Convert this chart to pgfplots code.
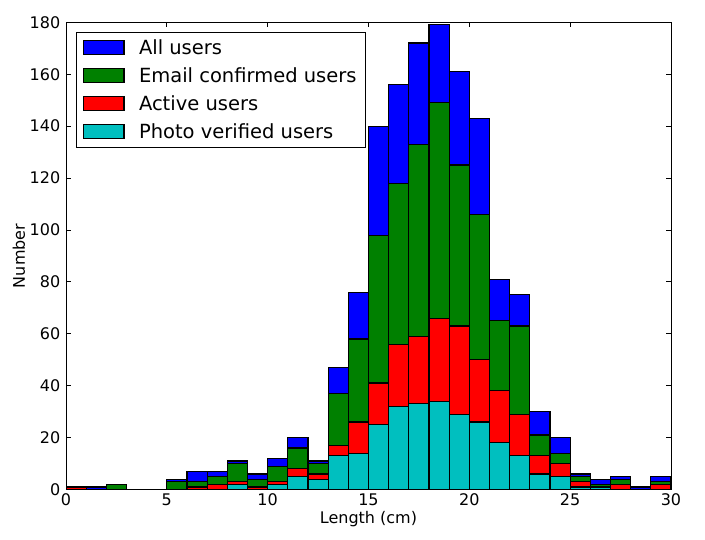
\documentclass[border=0pt]{standalone}
\usepackage{pgfplots}
\usepackage{pgfplotstable}
\pgfplotsset{compat=1.18}
\usepackage{fontspec}
\setmainfont{DejaVu Sans}
\definecolor{mplblue}{RGB}{0,0,255}
\definecolor{mplgreen}{RGB}{0,128,0}
\definecolor{mplred}{RGB}{255,0,0}
\definecolor{mplcyan}{RGB}{0,191,191}
\pgfplotsset{patchlegend/.style={legend image code/.code={\draw[##1] (0bp,-7bp) rectangle (40.6bp,7bp);}}}
\pgfplotstableread{
x  all email active photo
0  1   1   1   0
1  1   0   0   0
2  2   2   0   0
3  0   0   0   0
4  0   0   0   0
5  4   3   0   0
6  7   3   1   0
7  7   5   2   0
8  11  10  3   2
9  6   4   1   0
10 12  9   3   2
11 20  16  8   5
12 11  10  6   4
13 47  37  17  13
14 76  58  26  14
15 140 98  41  25
16 156 118 56  32
17 172 133 59  33
18 179 149 66  34
19 161 125 63  29
20 143 106 50  26
21 81  65  38  18
22 75  63  29  13
23 30  21  13  6
24 20  14  10  5
25 6   5   3   1
26 4   2   1   1
27 5   4   2   0
28 1   0   0   0
29 5   3   2   0
30 5   3   2   0
}\histdata
\begin{document}
\begin{tikzpicture}
\path[use as bounding box] (0,0) rectangle (705bp,540bp);
\begin{axis}[
  at={(66bp,50.5bp)}, anchor=south west,
  width=605bp, height=467.2bp, scale only axis,
  xmin=0, xmax=30, ymin=0, ymax=180,
  xtick={0,5,...,30}, ytick={0,20,...,180},
  minor tick num=0,
  tick align=inside,
  major tick length=5bp,
  tick style={black, line width=0.8bp},
  axis line style={black, line width=1bp},
  axis on top,
  /pgf/number format/assume math mode=true,
  ticklabel style={font=\fontsize{16bp}{19bp}\selectfont, inner sep=0pt, text height=11.66bp, text depth=0pt},
  xticklabel style={yshift=-4.5bp},
  yticklabel style={xshift=-5.6bp},
  label style={font=\fontsize{16bp}{19bp}\selectfont, inner sep=0pt},
  xlabel={Length (cm)},
  ylabel={Number},
  xlabel style={at={(axis description cs:0.5,0)}, anchor=base, yshift=-33.8bp},
  ylabel style={at={(axis description cs:-0.0678,0.5)}, anchor=base},
  legend cell align=left,
  legend style={
    at={(axis description cs:0.01605,0.97988)}, anchor=north west,
    draw=black, line width=1bp, fill=white,
    font=\fontsize{19.5bp}{23bp}\selectfont,
    inner xsep=6.5bp, inner ysep=6.3bp,
    row sep=10.1bp, column sep=12.5bp,
    nodes={inner sep=2bp, text height=14bp, text depth=0pt},
  },
]
\addlegendimage{fill=mplblue, draw=black, line width=1.2bp, patchlegend}
\addlegendentry{All users}
\addlegendimage{fill=mplgreen, draw=black, line width=1.2bp, patchlegend}
\addlegendentry{Email confirmed users}
\addlegendimage{fill=mplred, draw=black, line width=1.2bp, patchlegend}
\addlegendentry{Active users}
\addlegendimage{fill=mplcyan, draw=black, line width=1.2bp, patchlegend}
\addlegendentry{Photo verified users}
\addplot[ybar interval, fill=mplblue, draw=black, line width=1.2bp, forget plot] table[x=x, y=all] {\histdata};
\addplot[ybar interval, fill=mplgreen, draw=black, line width=1.2bp, forget plot] table[x=x, y=email] {\histdata};
\addplot[ybar interval, fill=mplred, draw=black, line width=1.2bp, forget plot] table[x=x, y=active] {\histdata};
\addplot[ybar interval, fill=mplcyan, draw=black, line width=1.2bp, forget plot] table[x=x, y=photo] {\histdata};
\end{axis}
\end{tikzpicture}
\end{document}
